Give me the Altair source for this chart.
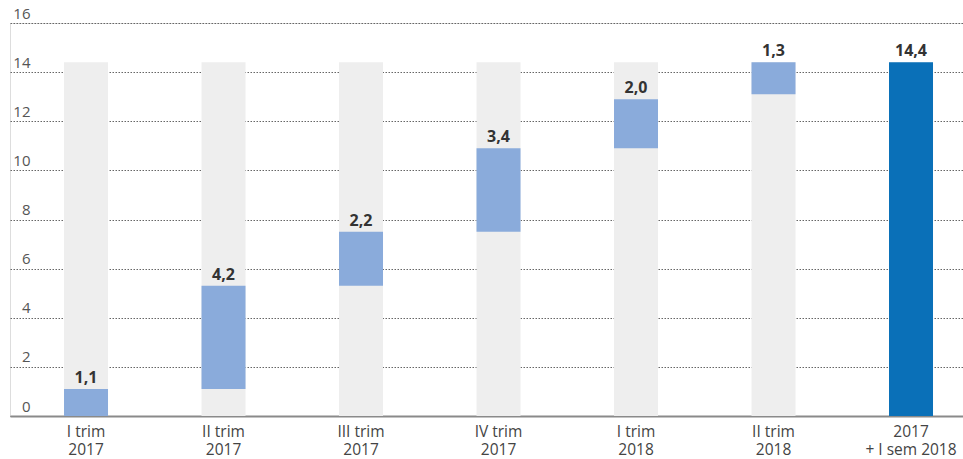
import altair as alt
import pandas as pd

# data
quarters = ["I trim", "II trim", "III trim", "IV trim", "I trim", "II trim", "2017"]
years = ["2017", "2017", "2017", "2017", "2018", "2018", "+ I sem 2018"]
starts = [0.0, 1.1, 5.3, 7.5, 10.9, 13.1, 0.0]
ends = [1.1, 5.3, 7.5, 10.9, 12.9, 14.4, 14.4]
values = [1.1, 4.2, 2.2, 3.4, 2.0, 1.3, 14.4]
kinds = ["step", "step", "step", "step", "step", "step", "total"]
background_top = [14.4, 14.4, 14.4, 14.4, 14.4, 14.4, 14.4]
y_ticks = [0, 2, 4, 6, 8, 10, 12, 14, 16]

cats = [f"{q}|{y}" for q, y in zip(quarters, years)]
df = pd.DataFrame({
    "cat": cats,
    "start": starts,
    "end": ends,
    "value": values,
    "kind": kinds,
    "bg": background_top,
    "zero": [0.0] * len(cats),
})

FONT = "Open Sans"

x_enc = alt.X(
    "cat:N",
    sort=cats,
    scale=alt.Scale(paddingInner=0.68, paddingOuter=0.3055, align=0.643),
    axis=alt.Axis(
        title=None,
        labelExpr="split(datum.label, '|')",
        labelAngle=0,
        labelFontSize=15.5,
        labelColor="#444444",
        labelFont=FONT,
        labelPadding=8,
        labelLineHeight=18,
        labelOverlap=False,
        ticks=False,
        domain=True,
        domainColor="#8a8a8a",
        domainWidth=2,
        grid=False,
    ),
)

y_scale = alt.Scale(domain=[0, 16], nice=False)

base = alt.Chart(df)

bg = base.mark_bar(color="#eeeeee").encode(
    x=x_enc,
    y=alt.Y(
        "zero:Q",
        scale=y_scale,
        axis=alt.Axis(
            title=None,
            values=y_ticks,
            domain=False,
            ticks=False,
            labelAlign="right",
            labelBaseline="bottom",
            labelPadding=-20,
            labelOffset=-2,
            labelFontSize=15,
            labelColor="#555555",
            labelFont=FONT,
            grid=True,
            gridColor="#666666",
            gridDash=[1.5, 1.5],
            gridWidth=1,
        ),
    ),
    y2="bg:Q",
)

bars = base.mark_bar().encode(
    x=alt.X("cat:N", sort=cats),
    y=alt.Y("start:Q", scale=y_scale),
    y2="end:Q",
    color=alt.Color(
        "kind:N",
        scale=alt.Scale(domain=["step", "total"], range=["#8aabdb", "#0a70b8"]),
        legend=None,
    ),
)

labels = base.transform_calculate(
    txt="replace(format(datum.value, '.1f'), '.', ',')"
).mark_text(
    baseline="bottom", dy=-3, fontSize=16, fontWeight="bold", color="#333333", font=FONT
).encode(
    x=alt.X("cat:N", sort=cats),
    y=alt.Y("end:Q", scale=y_scale),
    text="txt:N",
)

chart = alt.layer(bg, bars, labels).properties(
    width=953,
    height=393,
    autosize=alt.AutoSizeParams(type="none"),
    padding={"left": 10, "top": 23, "right": 0, "bottom": 43},
).configure_view(stroke=None).configure(font=FONT, background="white")

chart.save("out.html", embed_options={"renderer": "svg", "actions": False})
